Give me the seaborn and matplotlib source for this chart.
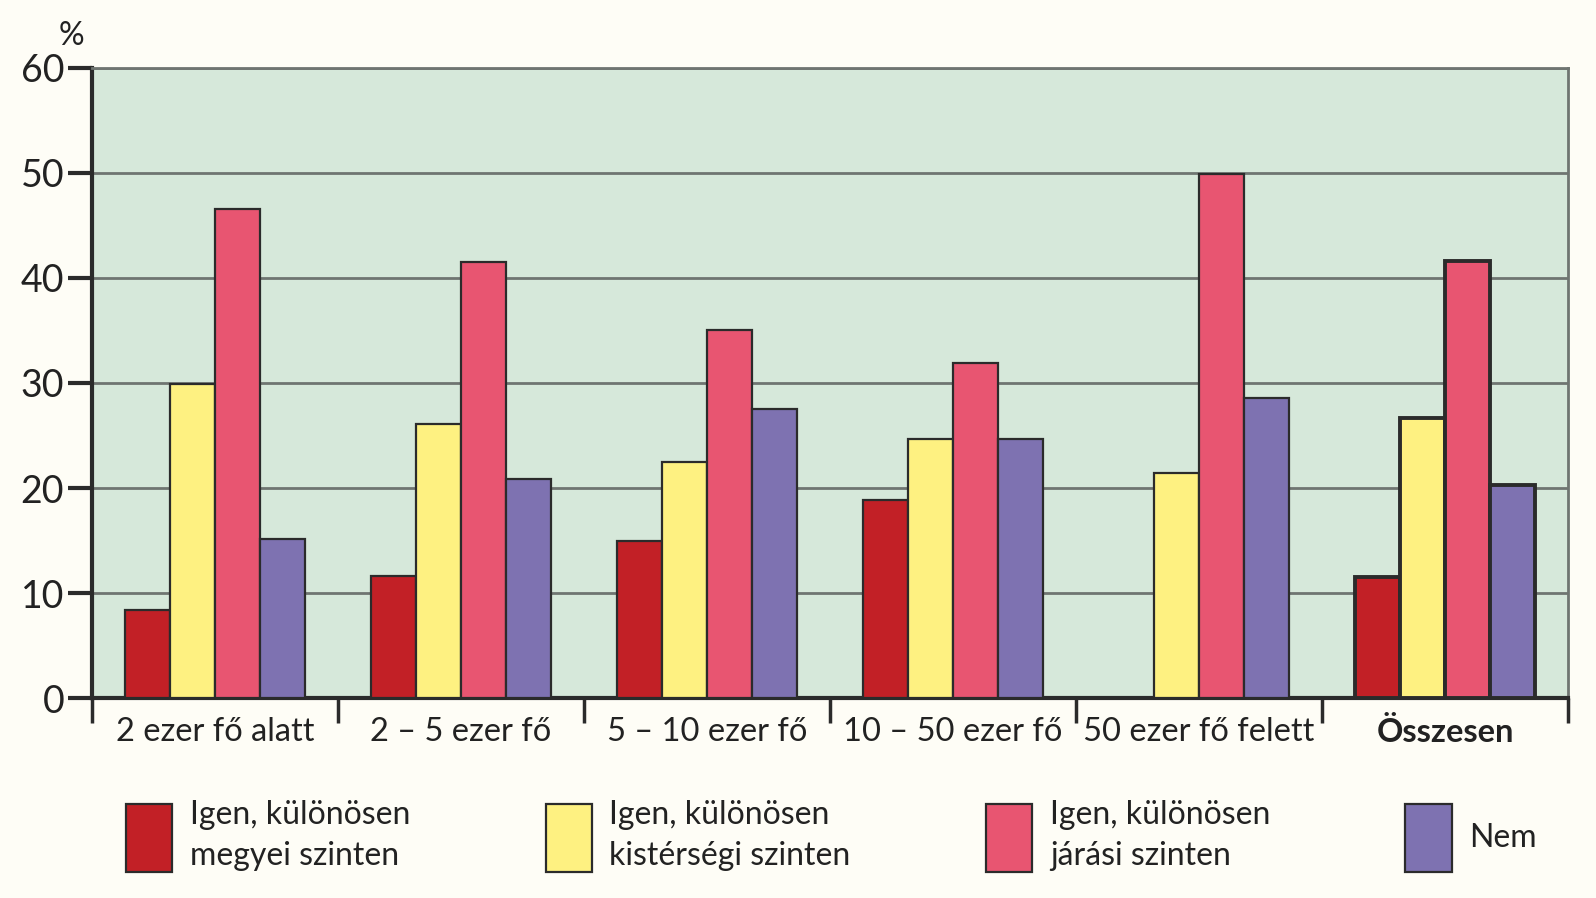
import matplotlib.pyplot as plt
import pandas as pd
import numpy as np
import seaborn as sns

# categories and series
categories = ['2 ezer fő alatt', '2 – 5 ezer fő', '5 – 10 ezer fő',
              '10 – 50 ezer fő', '50 ezer fő felett', 'Összesen']
series = ['Igen, különösen\nmegyei szinten', 'Igen, különösen\nkistérségi szinten',
          'Igen, különösen\njárási szinten', 'Nem']

megyei = [8.4, 11.6, 15.0, 18.9, np.nan, 11.5]
kisterseg = [29.9, 26.1, 22.5, 24.7, 21.4, 26.7]
jarasi = [46.6, 41.5, 35.0, 31.9, 49.9, 41.6]
nem = [15.1, 20.9, 27.5, 24.7, 28.6, 20.3]

colors = ['#C22026', '#FEF181', '#E85571', '#7E72B1']

rows = []
for s, vals in zip(series, [megyei, kisterseg, jarasi, nem]):
    for c, v in zip(categories, vals):
        rows.append({'cat': c, 'series': s, 'val': v})
df = pd.DataFrame(rows)

sns.set_style('white')
plt.rcParams['font.family'] = ['Lato', 'DejaVu Sans']

fig = plt.figure(figsize=(15.96, 8.98), dpi=100, facecolor='#FEFDF6')
ax = fig.add_axes([0.0576, 0.2227, 0.9825 - 0.0576, 0.9243 - 0.2227])
ax.set_facecolor('#D6E8DA')

sns.barplot(data=df, x='cat', y='val', hue='series', order=categories,
            hue_order=series, palette=colors, width=0.73, gap=0,
            edgecolor='#2B2B2B', linewidth=1.6, saturation=1, ax=ax, zorder=3)

# thicker outline for the total group
for p in ax.patches:
    if p.get_x() > 4.4:
        p.set_linewidth(2.8)

ax.set_ylim(0, 60)
ax.set_xlim(-0.5, 5.5)
ax.set_yticks(range(0, 61, 10))
ax.yaxis.grid(True, color='#6F7571', linewidth=2, zorder=1)
ax.set_axisbelow(True)

# boundaries as major ticks, names as minor ticks
ax.set_xticks(np.arange(-0.5, 6, 1))
ax.set_xticklabels([])
ax.set_xticks(np.arange(6), minor=True)
ax.set_xticklabels(categories, minor=True, fontsize=23.5, color='#222222')
ax.tick_params(axis='x', which='major', length=18, width=2.5, color='#2B2B2B', direction='out')
ax.tick_params(axis='x', which='minor', length=0, pad=14)
ax.xaxis.get_minorticklabels()[-1].set_fontweight('bold')
ax.tick_params(axis='y', length=17, width=3, color='#2B2B2B', labelsize=27,
               labelcolor='#222222', pad=3)
ax.tick_params(bottom=True, left=True)

for side in ['left', 'bottom']:
    ax.spines[side].set_color('#2B2B2B')
    ax.spines[side].set_linewidth(3)
for side in ['top', 'right']:
    ax.spines[side].set_color('#6F7571')
    ax.spines[side].set_linewidth(2)

ax.set_xlabel('')
ax.set_ylabel('')
fig.text(0.045, 0.96, '%', fontsize=23, color='#222222', ha='center', va='center')

handles, labels = ax.get_legend_handles_labels()
ax.legend_.remove()
leg = fig.legend(handles, labels, loc='center', ncol=4, mode='expand',
                 bbox_to_anchor=(0.079, 0.0, 0.963 - 0.079, 0.138), frameon=False,
                 fontsize=23, handlelength=1.45, handleheight=2.9, handletextpad=0.55,
                 labelcolor='#222222', borderaxespad=0, borderpad=0)
for t in leg.get_texts():
    t.set_linespacing(1.45)

plt.savefig('out.png', dpi=100, facecolor=fig.get_facecolor())
